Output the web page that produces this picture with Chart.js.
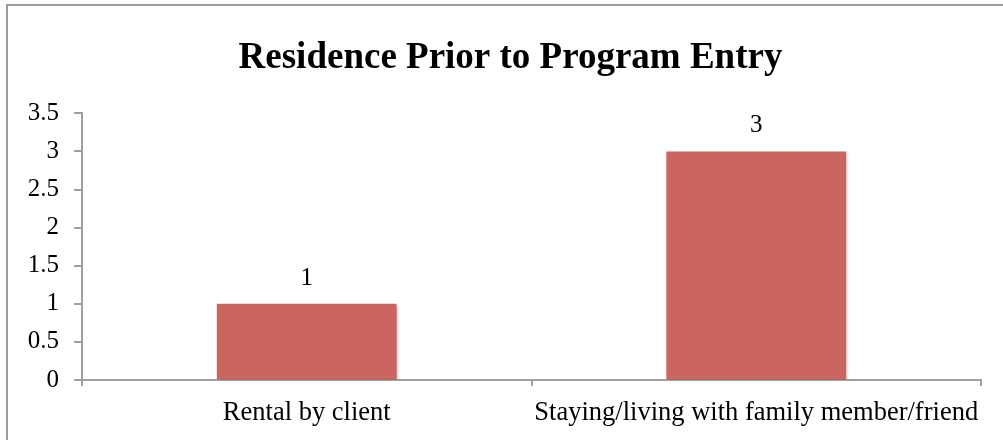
<!DOCTYPE html>
<html>
<head>
<meta charset="utf-8">
<script src="https://cdn.jsdelivr.net/npm/chart.js@4"></script>
<style>
  body { margin: 0; overflow: hidden; background: #fff; }
  #frame {
    position: absolute; left: 6px; top: 4px;
    width: 1010px; height: 450px;
    border-left: 2px solid #9c9c9c; border-top: 2px solid #9c9c9c;
  }
  #chart-wrap { position: absolute; left: 0; top: 0; width: 1005px; height: 440px; }
</style>
</head>
<body>
<div id="frame">
  <div id="chart-wrap"><canvas id="residence-chart"></canvas></div>
</div>
<script>
const TITLE = 'Residence Prior to Program Entry';
const categories = ['Rental by client', 'Staying/living with family member/friend'];
const counts = [1, 3];
const yTicks = [0, 0.5, 1, 1.5, 2, 2.5, 3, 3.5];

const BAR_COLOR = 'rgb(203, 101, 96)';
const AXIS_COLOR = '#a0a0a0';
const SERIF = "'Liberation Serif', 'Times New Roman', serif";

// value labels above bars + a light drop shadow like the office chart
const barExtras = {
  id: 'barExtras',
  beforeDatasetsDraw(chart) {
    const ctx = chart.ctx;
    ctx.save();
    ctx.shadowColor = 'rgba(0,0,0,0.28)';
    ctx.shadowBlur = 3;
    ctx.shadowOffsetX = 1;
    ctx.shadowOffsetY = 2;
  },
  afterDatasetsDraw(chart) {
    const ctx = chart.ctx;
    ctx.restore();
    ctx.save();
    ctx.fillStyle = '#000';
    ctx.font = '25px ' + SERIF;
    ctx.textAlign = 'center';
    ctx.textBaseline = 'alphabetic';
    chart.getDatasetMeta(0).data.forEach((bar, i) => {
      ctx.fillText(String(counts[i]), bar.x, bar.y - 19);
    });
    ctx.restore();
  }
};

new Chart(document.getElementById('residence-chart'), {
  type: 'bar',
  data: {
    labels: categories,
    datasets: [{
      data: counts,
      backgroundColor: BAR_COLOR,
      borderWidth: 0,
      categoryPercentage: 1,
      barPercentage: 0.4
    }]
  },
  options: {
    responsive: true,
    maintainAspectRatio: false,
    animation: false,
    layout: { padding: 0 },
    plugins: {
      legend: { display: false },
      tooltip: { enabled: false },
      title: {
        display: true,
        text: TITLE,
        color: '#000',
        font: { family: SERIF, size: 37, weight: 'bold' },
        padding: { top: 30, bottom: 33 }
      }
    },
    scales: {
      x: {
        grid: { display: true, drawOnChartArea: false, offset: true, color: AXIS_COLOR, tickLength: 6, lineWidth: 2 },
        border: { display: true, color: AXIS_COLOR, width: 2 },
        ticks: { color: '#000', font: { family: SERIF, size: 26.5 }, padding: 11, maxRotation: 0, autoSkip: false },
        afterFit(scale) { scale.height = 66; }
      },
      y: {
        min: 0,
        max: 3.5,
        afterBuildTicks(scale) { scale.ticks = yTicks.map(v => ({ value: v })); },
        grid: { display: true, drawOnChartArea: false, color: AXIS_COLOR, tickLength: 8, lineWidth: 2 },
        border: { display: true, color: AXIS_COLOR, width: 2 },
        ticks: {
          color: '#000',
          font: { family: SERIF, size: 25 },
          padding: 15,
          callback: v => String(v)
        },
        afterFit(scale) { scale.width = 74; }
      },
      // empty right-hand axis: only reserves the gap after the plot so the title stays centred on the frame
      yRight: {
        position: 'right',
        min: 0,
        max: 3.5,
        grid: { display: false },
        border: { display: false },
        ticks: { display: false },
        afterFit(scale) { scale.width = 32; }
      }
    }
  },
  plugins: [barExtras]
});
</script>
</body>
</html>
